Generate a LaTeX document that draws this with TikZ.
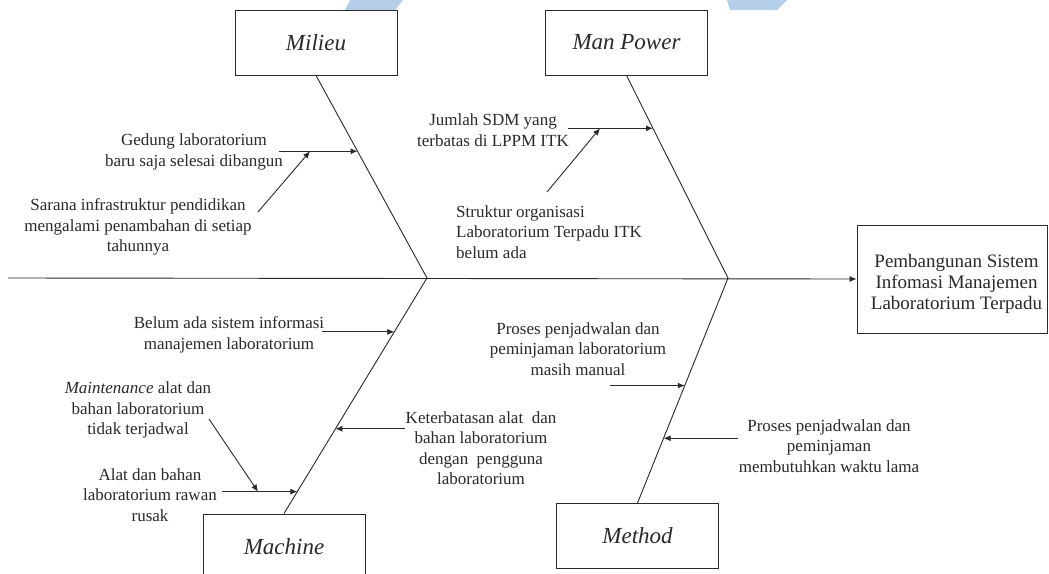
\documentclass[tikz,border=0pt]{standalone}
\usepackage{fontspec}
\setmainfont{Liberation Serif}
\usetikzlibrary{arrows.meta,calc}
\definecolor{ink}{HTML}{2A2A2A}
\definecolor{wm}{HTML}{B5CFE8}
\begin{document}
\begin{tikzpicture}[x=1pt,y=-1pt,
  line/.style={draw=ink,line width=0.9pt},
  arr/.style={line, -{Latex[length=7pt,width=6pt]}},
  catbox/.style={draw=ink,line width=0.9pt,minimum width=162pt,minimum height=65pt,inner sep=0pt,
    font=\fontsize{23}{27}\selectfont\itshape,text=ink},
  effbox/.style={draw=ink,line width=0.9pt,minimum width=190pt,minimum height=108pt,inner sep=0pt},
  efftext/.style={align=center,inner sep=0pt,font=\fontsize{19}{21}\selectfont,text=ink},
  cause/.style={align=center,inner sep=0pt,font=\fontsize{17}{20.5}\selectfont,text=ink},
  causel/.style={align=left,inner sep=0pt,font=\fontsize{17}{20.5}\selectfont,text=ink}]
\clip (0,0) rectangle (1049,573);
\fill[white] (0,0) rectangle (1049,573);
% watermark fragments
\fill[wm] (350,0) -- (403,0) -- (395,10) -- (345,10) -- cycle;
\fill[wm] (727,0) -- (787,0) -- (777,10) -- (730,10) -- cycle;

% category boxes
\node[catbox] (milieu) at (316,42.5) {Milieu};
\node[catbox] (manpower) at (626.5,42.5) {Man Power};
\node[catbox] (machine) at (284,546.5) {Machine};
\node[catbox] (method) at (637.5,536) {Method};
\node[effbox] (effect) at (952,279) {};
\node[efftext] (efflabel) at (956.5,284) {Pembangunan Sistem\\Infomasi Manajemen\\Laboratorium Terpadu};

% spine and bones
\coordinate (spine0) at (8,278);
\coordinate (j1) at (427,278);
\coordinate (j2) at (728,278);
\draw[arr] (spine0) -- (effect.west);
\draw[line] (milieu.south) -- (j1) -- (machine.north);
\draw[line] (manpower.south) -- (j2) -- (method.north);

% cause texts
\node[cause] (ged) at (194,152) {Gedung laboratorium\\baru saja selesai dibangun};
\node[cause] (sar) at (138,227) {Sarana infrastruktur pendidikan\\mengalami penambahan di setiap\\tahunnya};
\node[cause] (jum) at (493,130) {Jumlah SDM yang\\terbatas di LPPM ITK};
\node[causel,anchor=west] (str) at (456,232) {Struktur organisasi\\Laboratorium Terpadu ITK\\belum ada};
\node[cause] (bel) at (229,335) {Belum ada sistem informasi\\manajemen laboratorium};
\node[cause] (mai) at (138,410) {\textit{Maintenance} alat dan\\bahan laboratorium\\tidak terjadwal};
\node[cause] (alt) at (150,495) {Alat dan bahan\\laboratorium rawan\\rusak};
\node[cause] (ket) at (481,448) {Keterbatasan alat~~dan\\bahan laboratorium\\dengan~~pengguna\\laboratorium};
\node[cause] (pro1) at (578,349) {Proses penjadwalan dan\\peminjaman laboratorium\\masih manual};
\node[cause] (pro2) at (829,446) {Proses penjadwalan dan\\peminjaman\\membutuhkan waktu lama};

% arrow tips on bones
\coordinate (gedTip) at ($(milieu.south)!0.3744!(j1)$);
\coordinate (jumTip) at ($(manpower.south)!0.261!(j2)$);
\coordinate (belTip) at ($(j1)!0.2288!(machine.north)$);
\coordinate (ketTip) at ($(j1)!0.64!(machine.north)$);
\coordinate (altTip) at ($(j1)!0.907!(machine.north)$);
\coordinate (pro1Tip) at ($(j2)!0.478!(method.north)$);
\coordinate (pro2Tip) at ($(j2)!0.712!(method.north)$);

% arrow start points
\coordinate (gedS) at (279,0 |- gedTip);
\coordinate (jumS) at (568,0 |- jumTip);
\coordinate (belS) at (322,0 |- belTip);
\coordinate (ketS) at (405,0 |- ketTip);
\coordinate (altS) at (222,0 |- altTip);
\coordinate (pro1S) at (610,0 |- pro1Tip);
\coordinate (pro2S) at (738,0 |- pro2Tip);

\draw[arr] (gedS) -- (gedTip);
\draw[arr] (jumS) -- (jumTip);
\draw[arr] (belS) -- (belTip);
\draw[arr] (ketS) -- (ketTip);
\draw[arr] (altS) -- (altTip);
\draw[arr] (pro1S) -- (pro1Tip);
\draw[arr] (pro2S) -- (pro2Tip);

% sub-cause arrows
\coordinate (sarS) at (258,212);
\coordinate (sarTip) at (310,0 |- gedTip);
\coordinate (strS) at (547,192);
\coordinate (strTip) at (600,0 |- jumTip);
\coordinate (maiS) at (209,419);
\coordinate (maiTip) at (258,0 |- altTip);
\draw[arr] (sarS) -- (sarTip);
\draw[arr] (strS) -- (strTip);
\draw[arr] (maiS) -- (maiTip);
\end{tikzpicture}
\end{document}
